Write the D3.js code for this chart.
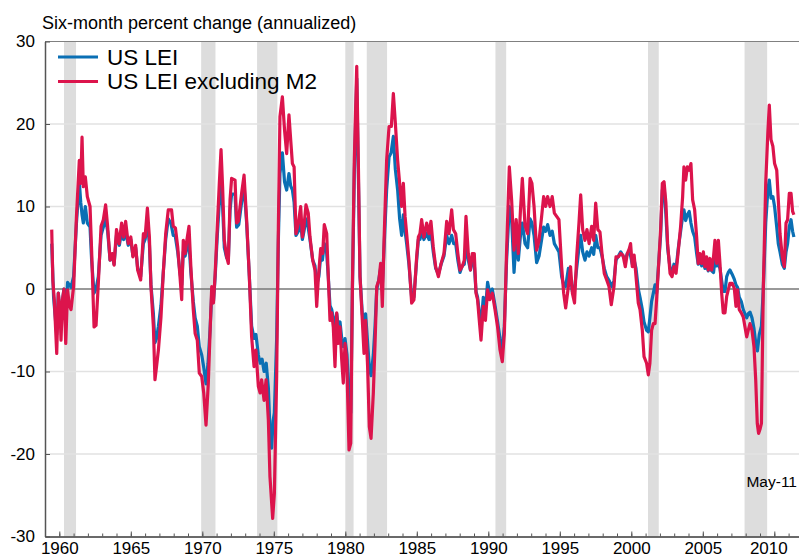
<!DOCTYPE html>
<html>
<head>
<meta charset="utf-8">
<script src="https://d3js.org/d3.v7.min.js"></script>
<style>
  body { margin: 0; background: #fff; }
  svg { display: block; font-family: "Liberation Sans", Arial, sans-serif; }
  .axis path, .axis line { stroke: #555; }
  .axis text { font-size: 17px; fill: #000; font-family: "Liberation Sans", Arial, sans-serif; }
</style>
</head>
<body>
<div id="chart"></div>
<script>
// recessions: [start, end] in decimal years (end includes trough month)
var recessions = [
  [1960.33, 1961.17], [1969.92, 1970.92], [1973.83, 1975.25], [1980.0, 1980.58],
  [1981.5, 1982.92], [1990.5, 1991.25], [2001.17, 2001.92], [2007.92, 2009.5]
];

var yearTicks = [1960, 1965, 1970, 1975, 1980, 1985, 1990, 1995, 2000, 2005, 2010];
var valueTicks = [-30, -20, -10, 0, 10, 20, 30];

// US LEI, six-month percent change annualized [year, value]
var lei = [
  [1959.47,5.5],[1959.6,-1.0],[1959.82,-5.5],[1959.93,-0.5],[1960.12,-4.5],[1960.25,-1.0],[1960.33,0],[1960.45,-3.5],
  [1960.58,0.8],[1960.7,0.5],[1960.82,0.2],[1961.0,1.5],[1961.2,8.0],[1961.4,13.0],[1961.5,10.5],[1961.59,9.0],
  [1961.68,8.0],[1961.82,10.0],[1961.96,8.0],[1962.15,7.5],[1962.26,3.5],[1962.43,-0.5],[1962.57,0.0],[1962.73,1.5],
  [1962.92,6.5],[1963.08,7.5],[1963.24,8.5],[1963.38,7.0],[1963.55,3.5],[1963.7,4.0],[1963.83,3.0],[1964.0,6.5],
  [1964.2,5.3],[1964.36,7.0],[1964.5,6.0],[1964.64,7.0],[1964.82,5.3],[1965.0,6.0],[1965.15,4.0],[1965.34,5.0],
  [1965.48,2.5],[1965.69,1.5],[1965.88,5.5],[1966.0,6.0],[1966.16,8.0],[1966.3,5.5],[1966.41,0.5],[1966.58,-3.0],
  [1966.69,-6.5],[1966.8,-6.0],[1966.93,-4.5],[1967.11,-2.0],[1967.27,2.0],[1967.44,6.0],[1967.62,8.5],[1967.8,8.0],
  [1967.97,6.5],[1968.1,6.5],[1968.28,4.5],[1968.44,2.0],[1968.56,0.5],[1968.67,4.5],[1968.8,4.0],[1968.93,5.0],
  [1969.07,5.5],[1969.2,2.0],[1969.37,-1.5],[1969.5,-3.5],[1969.65,-4.5],[1969.79,-7.0],[1969.96,-8.0],[1970.1,-9.5],
  [1970.26,-11.5],[1970.4,-9.0],[1970.54,-5.0],[1970.66,-0.5],[1970.78,-1.5],[1970.9,1.5],[1971.05,6.5],[1971.19,10.5],
  [1971.31,12.5],[1971.42,10.0],[1971.54,5.0],[1971.7,3.8],[1971.82,3.5],[1971.94,9.5],[1972.05,11.5],[1972.29,11.5],
  [1972.4,7.5],[1972.55,7.8],[1972.75,10.5],[1972.92,12.5],[1973.1,8.0],[1973.29,1.5],[1973.45,-4.5],[1973.62,-6.0],
  [1973.75,-5.5],[1973.92,-8.0],[1974.05,-9.0],[1974.18,-8.5],[1974.32,-10.0],[1974.47,-9.0],[1974.62,-12.0],[1974.73,-17.0],
  [1974.85,-19.3],[1974.95,-16.0],[1975.04,-15.0],[1975.2,-6.0],[1975.32,6.0],[1975.43,14.0],[1975.6,16.5],[1975.75,13.0],
  [1975.9,12.0],[1976.06,14.0],[1976.18,12.5],[1976.3,12.0],[1976.42,10.5],[1976.55,6.5],[1976.72,7.0],[1976.88,8.0],
  [1977.0,6.0],[1977.11,7.0],[1977.25,8.5],[1977.4,7.5],[1977.53,6.0],[1977.72,3.5],[1977.88,2.8],[1978.0,0.5],
  [1978.15,1.5],[1978.28,4.0],[1978.4,3.5],[1978.53,5.5],[1978.67,5.0],[1978.81,1.5],[1978.93,-2.0],[1979.05,-2.5],
  [1979.16,-3.5],[1979.28,-4.5],[1979.4,-3.0],[1979.51,-4.5],[1979.63,-4.0],[1979.75,-6.0],[1979.86,-7.0],[1979.98,-6.0],
  [1980.12,-8.0],[1980.26,-14.0],[1980.38,-15.0],[1980.49,-1.0],[1980.63,14.0],[1980.8,25.5],[1980.91,14.0],[1981.03,1.5],
  [1981.19,-3.0],[1981.31,-4.5],[1981.42,-3.0],[1981.56,-6.5],[1981.68,-9.5],[1981.8,-10.5],[1981.96,-8.0],[1982.08,-4.5],
  [1982.2,0.0],[1982.33,1.0],[1982.47,2.5],[1982.59,0.5],[1982.71,5.0],[1982.89,12.0],[1983.06,16.0],[1983.2,16.5],
  [1983.36,18.5],[1983.5,14.5],[1983.66,12.0],[1983.8,8.5],[1983.94,6.5],[1984.06,9.0],[1984.18,7.0],[1984.29,5.5],
  [1984.45,3.0],[1984.64,-1.0],[1984.8,-1.0],[1984.99,3.5],[1985.11,6.0],[1985.22,6.0],[1985.34,7.0],[1985.5,6.0],
  [1985.69,6.8],[1985.85,6.0],[1985.99,7.0],[1986.15,4.5],[1986.32,2.5],[1986.51,1.8],[1986.7,3.0],[1986.9,4.0],
  [1987.09,6.5],[1987.25,5.5],[1987.44,6.5],[1987.58,5.5],[1987.72,5.5],[1987.87,3.5],[1988.02,2.0],[1988.17,2.8],
  [1988.32,3.0],[1988.44,5.5],[1988.6,3.5],[1988.75,2.3],[1988.88,3.5],[1989.0,3.5],[1989.14,-0.3],[1989.25,-1.0],
  [1989.35,-2.5],[1989.49,-4.5],[1989.65,-1.0],[1989.8,-2.5],[1989.95,0.8],[1990.1,-0.5],[1990.28,0.0],[1990.47,-2.0],
  [1990.65,-4.0],[1990.82,-6.0],[1990.98,-7.5],[1991.12,-4.5],[1991.28,3.5],[1991.47,10.0],[1991.63,8.5],[1991.8,2.0],
  [1991.95,6.0],[1992.1,3.5],[1992.25,6.5],[1992.38,8.0],[1992.57,5.5],[1992.75,5.0],[1992.92,8.5],[1993.05,8.0],
  [1993.2,6.5],[1993.38,3.2],[1993.55,4.0],[1993.73,6.0],[1993.87,7.5],[1994.01,7.0],[1994.15,7.8],[1994.32,6.5],
  [1994.47,7.0],[1994.62,5.5],[1994.78,5.0],[1994.94,4.5],[1995.13,1.5],[1995.27,0.5],[1995.41,0.3],[1995.6,2.5],
  [1995.75,1.5],[1995.88,-0.3],[1996.03,0.0],[1996.18,2.5],[1996.34,5.0],[1996.46,6.5],[1996.6,4.5],[1996.76,3.5],
  [1996.9,4.5],[1997.05,4.0],[1997.23,5.0],[1997.37,4.2],[1997.51,6.5],[1997.66,5.0],[1997.81,5.0],[1997.95,4.0],
  [1998.11,2.5],[1998.28,1.5],[1998.46,1.0],[1998.63,0.3],[1998.79,1.0],[1998.93,3.5],[1999.1,4.0],[1999.26,4.5],
  [1999.42,4.0],[1999.58,3.5],[1999.72,4.3],[1999.86,4.5],[1999.95,4.0],[2000.07,3.0],[2000.2,3.5],[2000.33,2.5],
  [2000.49,0.0],[2000.61,-1.0],[2000.77,-2.5],[2000.89,-4.0],[2001.07,-5.0],[2001.19,-5.2],[2001.3,-3.5],[2001.42,-1.5],
  [2001.54,-0.5],[2001.66,0.5],[2001.77,-0.5],[2001.89,2.5],[2002.05,6.5],[2002.17,12.0],[2002.29,12.5],[2002.42,9.0],
  [2002.54,5.0],[2002.71,2.5],[2002.85,2.0],[2002.98,3.0],[2003.13,2.5],[2003.29,5.0],[2003.45,7.0],[2003.59,8.8],
  [2003.68,9.6],[2003.8,8.3],[2003.92,9.0],[2004.05,9.4],[2004.17,8.0],[2004.29,7.0],[2004.43,6.3],[2004.57,4.3],
  [2004.68,3.0],[2004.8,3.5],[2004.92,2.8],[2005.04,3.5],[2005.15,2.5],[2005.27,3.0],[2005.38,2.2],[2005.5,3.0],
  [2005.62,2.2],[2005.75,2.0],[2005.85,3.5],[2005.97,2.8],[2006.09,3.0],[2006.2,2.5],[2006.32,1.0],[2006.43,-0.3],
  [2006.55,-0.3],[2006.67,1.5],[2006.78,2.0],[2006.9,2.3],[2007.05,1.8],[2007.2,1.2],[2007.32,0.5],[2007.43,0.2],
  [2007.55,-1.0],[2007.69,-1.5],[2007.83,-2.5],[2007.95,-3.0],[2008.07,-3.5],[2008.18,-3.0],[2008.3,-2.8],[2008.44,-3.5],
  [2008.58,-4.8],[2008.7,-6.5],[2008.82,-7.5],[2008.95,-5.5],[2009.1,-4.5],[2009.23,0.0],[2009.4,8.0],[2009.55,12.0],
  [2009.65,13.2],[2009.77,11.0],[2009.9,11.2],[2010.02,10.0],[2010.17,7.5],[2010.28,5.5],[2010.4,4.5],[2010.56,3.0],
  [2010.7,2.5],[2010.82,4.5],[2010.93,5.5],[2011.05,7.6],[2011.17,8.4],[2011.28,7.0],[2011.37,6.3]
];

// US LEI excluding M2 [year, value]
var leiExM2 = [
  [1959.47,7.2],[1959.55,1.0],[1959.65,-1.3],[1959.82,-7.8],[1959.93,-0.5],[1960.05,-2.5],[1960.12,-6.2],[1960.22,-1.3],
  [1960.33,0.0],[1960.45,-6.6],[1960.58,-0.1],[1960.7,-2.0],[1960.82,-2.5],[1961.0,0.3],[1961.2,8.8],[1961.4,15.6],
  [1961.5,12.8],[1961.59,18.4],[1961.68,12.4],[1961.82,13.6],[1961.96,11.2],[1962.15,10.0],[1962.26,4.7],[1962.43,-4.6],
  [1962.57,-4.4],[1962.73,0.7],[1962.92,7.6],[1963.08,8.4],[1963.24,10.2],[1963.38,7.6],[1963.55,3.5],[1963.7,4.3],
  [1963.83,2.9],[1964.0,7.2],[1964.18,5.5],[1964.36,8.0],[1964.5,6.3],[1964.64,8.2],[1964.82,5.5],[1965.0,6.3],
  [1965.15,3.9],[1965.34,5.3],[1965.48,2.3],[1965.69,1.1],[1965.88,6.7],[1966.0,6.3],[1966.16,9.8],[1966.3,6.3],
  [1966.41,0.3],[1966.58,-4.6],[1966.69,-11.0],[1966.8,-9.4],[1966.93,-7.4],[1967.11,-3.4],[1967.27,1.9],[1967.44,6.7],
  [1967.62,9.6],[1967.85,9.6],[1967.97,7.6],[1968.12,7.4],[1968.28,5.1],[1968.44,1.5],[1968.56,-1.3],[1968.67,5.9],
  [1968.8,4.3],[1968.92,5.9],[1969.07,7.6],[1969.2,2.7],[1969.37,-2.5],[1969.5,-5.4],[1969.65,-6.2],[1969.79,-10.2],
  [1969.96,-10.6],[1970.1,-12.6],[1970.26,-16.5],[1970.42,-11.4],[1970.54,-5.4],[1970.66,0.3],[1970.78,-1.7],[1970.9,1.9],
  [1971.05,7.6],[1971.19,12.8],[1971.31,16.9],[1971.42,12.4],[1971.54,5.9],[1971.7,3.9],[1971.82,3.1],[1971.94,10.8],
  [1972.05,13.4],[1972.29,13.2],[1972.4,8.0],[1972.52,8.2],[1972.75,11.6],[1972.92,13.8],[1973.1,8.4],[1973.29,1.5],
  [1973.45,-5.8],[1973.62,-9.4],[1973.75,-7.4],[1973.92,-11.8],[1974.04,-12.6],[1974.15,-11.0],[1974.32,-13.5],[1974.46,-11.0],
  [1974.62,-15.9],[1974.73,-22.7],[1974.92,-27.8],[1975.04,-24.8],[1975.2,-10.6],[1975.32,7.6],[1975.43,20.9],[1975.6,23.3],
  [1975.75,19.3],[1975.9,16.4],[1976.06,21.1],[1976.18,18.1],[1976.3,15.2],[1976.42,14.8],[1976.55,6.7],[1976.72,8.0],
  [1976.88,10.0],[1977.0,6.3],[1977.11,7.6],[1977.25,10.2],[1977.41,9.2],[1977.53,6.3],[1977.72,3.5],[1977.88,2.3],
  [1978.0,-2.1],[1978.12,1.5],[1978.28,4.9],[1978.42,4.3],[1978.53,7.8],[1978.7,6.7],[1978.81,1.5],[1978.93,-3.8],
  [1979.05,-2.9],[1979.16,-4.6],[1979.28,-9.4],[1979.4,-2.9],[1979.51,-6.6],[1979.63,-4.6],[1979.75,-8.6],[1979.86,-11.4],
  [1979.98,-6.6],[1980.1,-8.6],[1980.26,-19.5],[1980.38,-18.7],[1980.49,-0.5],[1980.63,15.6],[1980.8,27.0],[1980.91,15.6],
  [1981.03,1.5],[1981.19,-3.8],[1981.31,-7.8],[1981.42,-3.8],[1981.56,-9.4],[1981.68,-16.7],[1981.8,-18.1],[1981.96,-12.6],
  [1982.08,-6.6],[1982.2,0.3],[1982.35,1.1],[1982.47,3.1],[1982.59,-2.1],[1982.71,5.9],[1982.89,15.6],[1983.06,19.7],
  [1983.22,19.7],[1983.36,23.7],[1983.5,20.1],[1983.66,15.6],[1983.8,12.8],[1983.94,10.0],[1984.06,12.8],[1984.18,8.8],
  [1984.29,6.7],[1984.45,3.5],[1984.64,-1.7],[1984.8,-1.3],[1984.99,3.9],[1985.11,6.3],[1985.22,6.7],[1985.34,8.4],
  [1985.5,6.3],[1985.69,8.0],[1985.85,6.7],[1985.99,8.2],[1986.15,5.1],[1986.32,2.7],[1986.51,1.5],[1986.7,3.1],
  [1986.9,4.3],[1987.09,8.2],[1987.25,6.7],[1987.44,9.6],[1987.56,7.2],[1987.72,6.7],[1987.87,4.3],[1988.02,2.3],
  [1988.17,2.7],[1988.32,3.5],[1988.44,8.8],[1988.6,4.3],[1988.75,2.3],[1988.88,4.3],[1989.02,4.3],[1989.14,-0.5],
  [1989.25,-1.3],[1989.35,-3.4],[1989.49,-6.2],[1989.65,-2.1],[1989.8,-3.8],[1989.95,-0.1],[1990.1,-1.3],[1990.28,-0.5],
  [1990.47,-2.5],[1990.65,-4.6],[1990.82,-7.4],[1990.98,-8.8],[1991.12,-5.4],[1991.28,4.7],[1991.47,14.8],[1991.63,10.8],
  [1991.8,4.7],[1991.95,8.4],[1992.1,4.3],[1992.25,9.6],[1992.38,13.4],[1992.57,7.6],[1992.75,6.7],[1992.92,13.4],
  [1993.05,12.8],[1993.2,10.0],[1993.38,4.7],[1993.55,5.9],[1993.73,8.8],[1993.87,11.2],[1994.01,10.0],[1994.15,11.2],
  [1994.32,10.0],[1994.47,11.2],[1994.62,9.2],[1994.78,8.8],[1994.94,8.4],[1995.13,2.7],[1995.27,-0.5],[1995.41,-2.3],
  [1995.6,0.3],[1995.75,2.7],[1995.88,-0.5],[1996.03,-1.7],[1996.18,3.9],[1996.34,8.0],[1996.46,11.4],[1996.6,7.2],
  [1996.76,5.9],[1996.9,7.2],[1997.05,5.5],[1997.23,7.6],[1997.37,5.9],[1997.51,10.4],[1997.66,7.2],[1997.81,6.9],
  [1997.95,4.3],[1998.11,1.9],[1998.28,1.1],[1998.44,0.3],[1998.6,-1.9],[1998.79,0.3],[1998.93,3.9],[1999.1,3.9],
  [1999.26,4.3],[1999.42,4.1],[1999.58,2.7],[1999.72,4.3],[1999.86,4.9],[1999.95,5.5],[2000.07,2.7],[2000.2,4.1],
  [2000.33,1.5],[2000.49,-1.7],[2000.61,-2.5],[2000.77,-5.0],[2000.89,-8.2],[2001.07,-9.0],[2001.19,-10.4],[2001.3,-9.0],
  [2001.42,-5.0],[2001.54,-4.2],[2001.66,-4.2],[2001.77,-1.3],[2001.89,2.3],[2002.05,7.2],[2002.17,12.8],[2002.29,13.0],
  [2002.42,10.4],[2002.54,5.5],[2002.71,1.9],[2002.85,1.5],[2002.98,2.7],[2003.13,1.9],[2003.29,4.7],[2003.45,7.6],
  [2003.59,11.2],[2003.68,14.8],[2003.8,13.2],[2003.92,14.8],[2004.05,14.4],[2004.17,15.2],[2004.29,10.8],[2004.43,9.6],
  [2004.57,6.3],[2004.68,3.1],[2004.8,4.3],[2004.92,3.1],[2005.04,4.5],[2005.15,2.7],[2005.27,3.9],[2005.38,2.3],
  [2005.5,3.7],[2005.62,2.3],[2005.75,3.9],[2005.85,5.9],[2005.97,3.1],[2006.09,5.9],[2006.2,3.1],[2006.32,-0.5],
  [2006.43,-2.9],[2006.55,-2.9],[2006.67,-0.9],[2006.78,-0.1],[2006.9,0.7],[2007.05,0.7],[2007.2,0.1],[2007.32,-2.1],
  [2007.43,-0.1],[2007.55,-2.5],[2007.69,-2.9],[2007.83,-3.4],[2007.95,-4.6],[2008.07,-5.8],[2008.18,-5.0],[2008.3,-4.2],
  [2008.44,-5.0],[2008.58,-7.0],[2008.7,-11.0],[2008.81,-16.3],[2008.9,-17.5],[2009.0,-17.0],[2009.1,-16.3],[2009.23,0.0],
  [2009.4,12.8],[2009.55,19.0],[2009.65,22.3],[2009.77,18.1],[2009.9,17.3],[2010.02,15.2],[2010.17,14.4],[2010.28,10.8],
  [2010.4,6.7],[2010.56,3.9],[2010.7,2.7],[2010.82,8.0],[2010.93,8.4],[2011.05,11.6],[2011.17,11.6],[2011.28,9.4],[2011.37,9.0]
];

var width = 799, height = 558;
var plotLeft = 45, plotRight = 799, plotTop = 41.5, plotBottom = 536.5;

var svg = d3.select("#chart").append("svg").attr("width", width).attr("height", height);

var x = d3.scaleLinear().domain([1959, 1959 + (plotRight - plotLeft) / 14.3]).range([plotLeft, plotRight]);
var y = d3.scaleLinear().domain([-30, 30]).range([plotBottom, plotTop]);

// recession shading
svg.append("g").selectAll("rect").data(recessions).enter().append("rect")
  .attr("x", function(d) { return x(d[0]); })
  .attr("y", plotTop)
  .attr("width", function(d) { return x(d[1]) - x(d[0]); })
  .attr("height", plotBottom - plotTop)
  .attr("fill", "#dddddd");

// gridlines
svg.append("g").selectAll("line").data([-20, -10, 10, 20]).enter().append("line")
  .attr("x1", plotLeft).attr("x2", plotRight)
  .attr("y1", function(d) { return y(d); }).attr("y2", function(d) { return y(d); })
  .attr("stroke", "#e2e2e2").attr("stroke-width", 1.5);

// top border + zero line
svg.append("line").attr("x1", plotLeft).attr("x2", plotRight).attr("y1", y(30)).attr("y2", y(30))
  .attr("stroke", "#808080").attr("stroke-width", 1);
svg.append("line").attr("x1", plotLeft).attr("x2", plotRight).attr("y1", y(0)).attr("y2", y(0))
  .attr("stroke", "#777").attr("stroke-width", 1.5);

// axes (plain hyphen for negatives, like the original)
var plainNum = function(d) { return String(d); };

var minorAxis = d3.axisBottom(x).tickValues(d3.range(1959, 2012)).tickSize(-3).tickSizeOuter(0).tickFormat("");
svg.append("g").attr("class", "axis").attr("transform", "translate(0," + plotBottom + ")").call(minorAxis);

var xAxis = d3.axisBottom(x).tickValues(yearTicks).tickSize(-5).tickSizeOuter(0).tickPadding(5.5).tickFormat(plainNum);
var gx = svg.append("g").attr("class", "axis").attr("transform", "translate(0," + plotBottom + ")").call(xAxis);
gx.selectAll("text").filter(function(d) { return d === 2010; }).attr("dx", -6);
gx.select(".domain").attr("stroke-width", 1.5);

var yAxis = d3.axisLeft(y).tickValues(valueTicks).tickSize(-5).tickSizeOuter(0).tickPadding(10).tickFormat(plainNum);
var gy = svg.append("g").attr("class", "axis").attr("transform", "translate(" + plotLeft + ",0)").call(yAxis);
gy.select(".domain").attr("stroke-width", 1.5);

// series
var line = d3.line().x(function(d) { return x(d[0]); }).y(function(d) { return y(d[1]); });

svg.append("path").datum(lei).attr("d", line)
  .attr("fill", "none").attr("stroke", "#0a6fb4").attr("stroke-width", 3.2).attr("stroke-linejoin", "round");
svg.append("path").datum(leiExM2).attr("d", line)
  .attr("fill", "none").attr("stroke", "#dc144c").attr("stroke-width", 3.2).attr("stroke-linejoin", "round");

// title
svg.append("text").attr("x", 42).attr("y", 29).attr("font-size", 18).text("Six-month percent change (annualized)");

// legend
var legend = [["US LEI", "#0a6fb4"], ["US LEI excluding M2", "#dc144c"]];
var lg = svg.append("g").selectAll("g").data(legend).enter().append("g")
  .attr("transform", function(d, i) { return "translate(58," + (57 + i * 24.5) + ")"; });
lg.append("line").attr("x1", 0).attr("x2", 40).attr("stroke", function(d) { return d[1]; }).attr("stroke-width", 3.2);
lg.append("text").attr("x", 49).attr("y", 7.5).attr("font-size", 22.5).text(function(d) { return d[0]; });

// last observation note
svg.append("text").attr("x", 797).attr("y", 487).attr("text-anchor", "end").attr("font-size", 15.5).text("May-11");
</script>
</body>
</html>
